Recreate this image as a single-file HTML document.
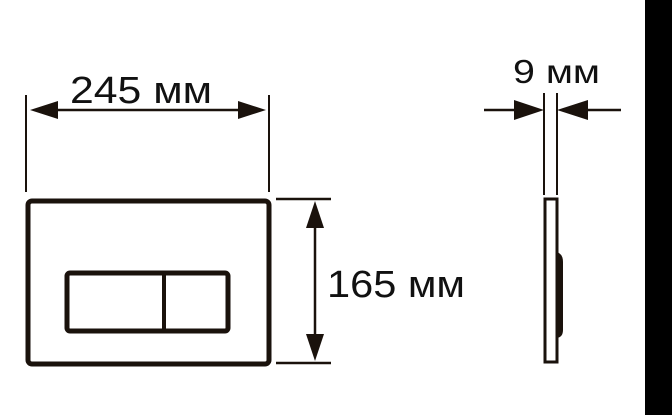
<!DOCTYPE html>
<html><head><meta charset="utf-8"><style>
html,body{margin:0;padding:0;background:#fff;width:672px;height:415px;overflow:hidden}
svg{display:block}
text{font-family:"Liberation Sans",sans-serif;fill:#111}
</style></head><body>
<svg width="672" height="415" viewBox="0 0 672 415" xmlns="http://www.w3.org/2000/svg">
<rect x="645" y="0" width="27" height="415" fill="#000"/>
<g stroke="#1a120c" fill="none">
<line x1="26" y1="95" x2="26" y2="192" stroke-width="2"/>
<line x1="269" y1="95" x2="269" y2="192" stroke-width="2"/>
<line x1="40" y1="110" x2="255" y2="110" stroke-width="2.5"/>
<rect x="28" y="201" width="241" height="163" rx="4" stroke-width="5"/>
<rect x="67" y="273" width="161" height="58" rx="3" stroke-width="5"/>
<line x1="164" y1="273" x2="164" y2="331" stroke-width="4"/>
<line x1="276" y1="199" x2="331" y2="199" stroke-width="2.5"/>
<line x1="276" y1="363" x2="331" y2="363" stroke-width="2.5"/>
<line x1="315" y1="215" x2="315" y2="350" stroke-width="2.5"/>
<line x1="544" y1="93" x2="544" y2="195" stroke-width="2"/>
<line x1="557" y1="93" x2="557" y2="195" stroke-width="2"/>
<line x1="484" y1="110" x2="520" y2="110" stroke-width="2.5"/>
<line x1="580" y1="110" x2="621" y2="110" stroke-width="2.5"/>
<rect x="545" y="199" width="12" height="163" stroke-width="3"/>
</g>
<g fill="#1a120c">
<polygon points="30,110 58,101 58,119"/>
<polygon points="266,110 238,101 238,119"/>
<polygon points="315,201 306,228 324,228"/>
<polygon points="315,361 306,334 324,334"/>
<polygon points="544,110 514,100 514,120"/>
<polygon points="557,110 588,100 588,120"/>
<path d="M557,252 Q563,254 563,262 L563,330 Q563,337 557,338 Z"/>
</g>
<text x="70" y="103" font-size="38" textLength="142" lengthAdjust="spacingAndGlyphs">245 мм</text>
<text x="327" y="297" font-size="38" textLength="138" lengthAdjust="spacingAndGlyphs">165 мм</text>
<text x="513" y="83" font-size="33" textLength="87" lengthAdjust="spacingAndGlyphs">9 мм</text>
</svg>
</body></html>
